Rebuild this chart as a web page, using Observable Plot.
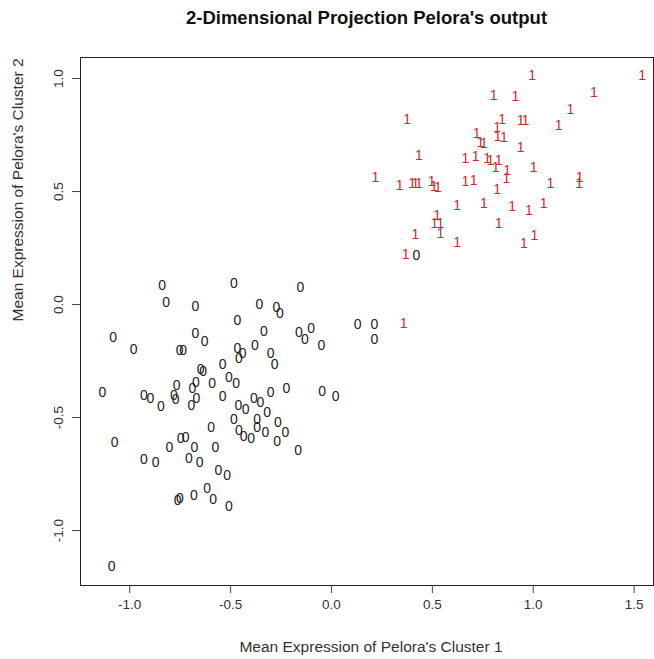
<!DOCTYPE html>
<html>
<head>
<meta charset="utf-8">
<script src="https://cdn.jsdelivr.net/npm/d3@7"></script>
<script src="https://cdn.jsdelivr.net/npm/@observablehq/plot@0.6"></script>
<style>
  body { margin: 0; background: #fff; }
  #title { width: 654px; height: 36px; box-sizing: border-box; padding-left: 80px; padding-right: 1px;
           text-align: center; font: bold 18.5px "Liberation Sans", Arial, sans-serif; line-height: 36px; color: #111; }
</style>
</head>
<body>
<div id="title">2-Dimensional Projection Pelora's output</div>
<div id="chart"></div>
<script>
// Class 0 samples (black "0")
const x0 = [-0.839,-0.819,-0.674,-1.082,-0.980,-0.753,-0.735,-0.674,-0.629,-0.649,-0.636,-0.591,-0.768,-0.781,-0.772,-0.690,-0.672,-0.669,-1.136,-0.930,-0.897,-0.846,-0.694,-0.484,-0.154,-0.357,-0.273,-0.256,-0.467,-0.335,-0.162,-0.132,-0.101,-0.050,-0.380,-0.467,-0.459,-0.440,-0.302,-0.282,-0.539,-0.509,-0.472,-0.302,-0.223,-0.046,0.020,-0.539,-0.462,-0.426,-0.385,-0.352,-0.319,-0.596,-1.075,-0.803,-0.748,-0.723,-0.679,-0.575,-0.930,-0.872,-0.707,-0.653,-0.762,-0.752,-0.682,-0.616,-0.586,-1.090,-0.484,-0.368,-0.368,-0.266,-0.459,-0.435,-0.398,-0.327,-0.269,-0.228,-0.165,-0.561,-0.517,-0.509,0.129,0.213,0.213,0.421];
const y0 = [0.084,0.010,-0.009,-0.145,-0.200,-0.204,-0.204,-0.128,-0.164,-0.288,-0.296,-0.350,-0.358,-0.403,-0.420,-0.372,-0.344,-0.415,-0.388,-0.403,-0.416,-0.451,-0.447,0.094,0.074,-0.001,-0.012,-0.041,-0.071,-0.119,-0.123,-0.155,-0.105,-0.181,-0.181,-0.196,-0.240,-0.218,-0.218,-0.267,-0.265,-0.324,-0.348,-0.388,-0.373,-0.384,-0.406,-0.406,-0.447,-0.466,-0.417,-0.432,-0.477,-0.543,-0.612,-0.631,-0.592,-0.587,-0.631,-0.631,-0.687,-0.698,-0.683,-0.698,-0.867,-0.860,-0.845,-0.815,-0.863,-1.159,-0.509,-0.509,-0.543,-0.521,-0.558,-0.583,-0.592,-0.565,-0.606,-0.565,-0.646,-0.735,-0.757,-0.892,-0.088,-0.088,-0.155,0.217];
// Class 1 samples (red "1")
const x1 = [0.804,0.375,0.846,0.821,0.854,0.824,0.719,0.738,0.755,0.433,0.664,0.714,0.772,0.788,0.813,0.829,0.871,0.218,0.338,0.400,0.416,0.433,0.496,0.507,0.527,0.664,0.705,0.821,0.867,0.995,1.540,0.912,1.300,1.184,0.937,0.961,1.126,0.937,1.002,1.085,1.230,1.227,0.623,0.755,0.524,0.510,0.540,0.540,0.829,0.416,0.623,0.367,0.358,0.895,0.978,1.052,0.953,1.006];
const y1 = [0.925,0.817,0.817,0.785,0.740,0.743,0.758,0.718,0.714,0.659,0.645,0.656,0.645,0.637,0.605,0.637,0.593,0.563,0.527,0.537,0.537,0.537,0.546,0.522,0.519,0.546,0.549,0.509,0.556,1.013,1.013,0.920,0.939,0.862,0.814,0.814,0.792,0.693,0.608,0.534,0.563,0.534,0.438,0.446,0.394,0.357,0.357,0.313,0.357,0.310,0.276,0.221,-0.085,0.434,0.416,0.448,0.269,0.305];
const xTicks = [-1.0, -0.5, 0.0, 0.5, 1.0, 1.5];
const yTicks = [-1.0, -0.5, 0.0, 0.5, 1.0];
const xLabel = "Mean Expression of Pelora's Cluster 1";
const yLabel = "Mean Expression of Pelora's Cluster 2";

const pts0 = x0.map((v, i) => ({x: v, y: y0[i], lab: "0"}));
const pts1 = x1.map((v, i) => ({x: v, y: y1[i], lab: "1"}));
const fmt = d => d.toFixed(1);

const chart = Plot.plot({
  width: 654,
  height: 623,
  marginTop: 21,
  marginLeft: 80,
  marginRight: 1,
  marginBottom: 74,
  style: {fontFamily: "'Liberation Sans', Arial, sans-serif", color: "#333", background: "#fff"},
  x: {domain: [-1.244, 1.596]},
  y: {domain: [-1.243, 1.093]},
  marks: [
    Plot.frame({stroke: "#222"}),
    Plot.axisX({ticks: xTicks, tickFormat: fmt, tickSize: 8, tickPadding: 6, fontSize: 13.5, label: null, stroke: "#444"}),
    Plot.axisY({ticks: yTicks, tickFormat: fmt, tickSize: 8, tickPadding: 10, fontSize: 13.5, tickRotate: -90, label: null, stroke: "#444"}),
    Plot.text([xLabel], {frameAnchor: "bottom", dy: 66, dx: 4, fontSize: 15.5, fill: "#333"}),
    Plot.text([yLabel], {frameAnchor: "left", dx: -62, rotate: -90, fontSize: 15.5, fill: "#333"}),
    Plot.text(pts0, {x: "x", y: "y", text: "lab", fontSize: 14, fill: "#222"}),
    Plot.text(pts1, {x: "x", y: "y", text: "lab", fontSize: 14, fill: "#c62d2d"})
  ]
});
document.getElementById("chart").appendChild(chart);
</script>
</body>
</html>
